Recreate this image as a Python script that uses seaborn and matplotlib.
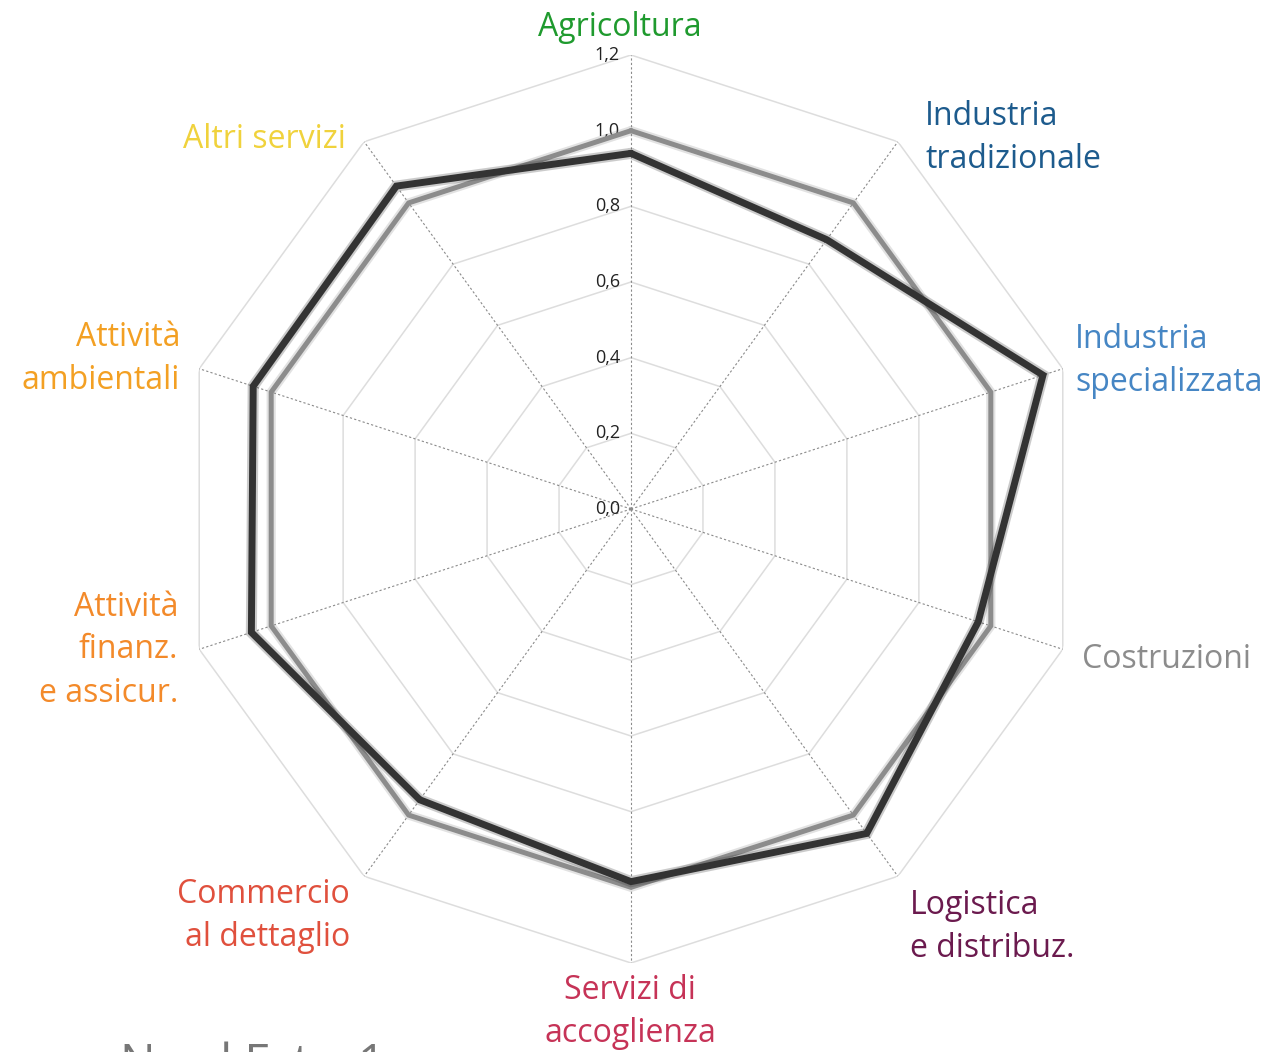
import numpy as np
import pandas as pd
import seaborn as sns
import matplotlib.pyplot as plt
import matplotlib.patheffects as pe

# categories, clockwise from the top
categorie = ['Agricoltura', 'Industria tradizionale', 'Industria specializzata', 'Costruzioni',
             'Logistica e distribuz.', 'Servizi di accoglienza', 'Commercio al dettaglio',
             'Attività finanz. e assicur.', 'Attività ambientali', 'Altri servizi']
riferimento = [1.0, 1.0, 1.0, 1.0, 1.0, 1.0, 1.0, 1.0, 1.0, 1.0]
nord_est = [0.94, 0.88, 1.145, 0.965, 1.06, 0.985, 0.95, 1.055, 1.05, 1.055]
anelli = [0.2, 0.4, 0.6, 0.8, 1.0, 1.2]
tick_labels = ['0,0', '0,2', '0,4', '0,6', '0,8', '1,0', '1,2']

# label text, colour and pixel anchor (x, y, ha)
etichette = ['Agricoltura', 'Industria\ntradizionale', 'Industria\nspecializzata', 'Costruzioni',
             'Logistica\ne distribuz.', 'Servizi di\naccoglienza', 'Commercio\nal dettaglio',
             'Attività\nfinanz.\ne assicur.', 'Attività\nambientali', 'Altri servizi']
colori = ['#1f9a2e', '#1d5b8d', '#4686c4', '#8c8c8c', '#6b1a4e',
          '#c63357', '#e0503d', '#f38a2a', '#f3a023', '#f0d23c']
pos = [(620, 28, 'center'), (925, 138, 'left'), (1075, 361, 'left'), (1082, 659, 'left'),
       (910, 927, 'left'), (630, 1012, 'center'), (350, 916, 'right'),
       (178, 650, 'right'), (180, 359, 'right'), (346, 140, 'right')]

W, H = 1273, 1052
sns.set_theme(style='white')
plt.rcParams['font.family'] = ['Open Sans', 'DejaVu Sans']

fig = plt.figure(figsize=(W / 100, H / 100), dpi=100)
cx, cy, R = 631, 509, 454
ax = fig.add_axes([(cx - R) / W, (H - cy - R) / H, 2 * R / W, 2 * R / H], projection='polar')
ax.set_theta_zero_location('N')
ax.set_theta_direction(-1)
ax.set_ylim(0, 1.2)
ax.grid(False)
ax.spines['polar'].set_visible(False)
ax.set_xticks([])
ax.set_yticks([])
ax.patch.set_alpha(0)

n = len(categorie)
theta = np.linspace(0, 2 * np.pi, n, endpoint=False)
theta_c = np.append(theta, 2 * np.pi)

# polygon grid
for r in anelli:
    ax.plot(theta_c, [r] * (n + 1), color='#dddddd', lw=1.1, zorder=1)
for t in theta:
    ax.plot([t, t], [0, 1.2], color='#8a8a8a', lw=0.8, ls=(0, (2, 2)), zorder=1)

for i, lab in enumerate(tick_labels):
    ax.annotate(lab, xy=(0, i * 0.2), xytext=(-8, 0), textcoords='offset points',
                ha='right', va='center', fontsize=13, color='#222222')

df = pd.DataFrame({
    'theta': np.concatenate([theta_c, theta_c]),
    'valore': riferimento + riferimento[:1] + nord_est + nord_est[:1],
    'serie': ['Italia'] * (n + 1) + ['Nord Est'] * (n + 1),
})
sns.lineplot(data=df, x='theta', y='valore', hue='serie', sort=False, estimator=None,
             palette={'Italia': '#8c8c8c', 'Nord Est': '#333333'}, ax=ax, legend=False, zorder=3)
for line, lw in zip(ax.lines[-2:], [3.6, 5.0]):
    c = line.get_color()
    line.set_linewidth(lw)
    line.set_solid_joinstyle('miter')
    line.set_path_effects([pe.Stroke(linewidth=lw + 3, foreground=c, alpha=0.25), pe.Normal()])
ax.set_xlabel('')
ax.set_ylabel('')

for lab, c, (x, y, ha) in zip(etichette, colori, pos):
    fig.text(x / W, 1 - y / H, lab, ha=ha, va='center', color=c, fontsize=23,
             linespacing=1.4, multialignment=ha)

fig.text(120 / W, -26 / H, 'Nord Est – 1', ha='left', va='baseline', color='#777777', fontsize=34)

fig.savefig('out.png', dpi=100)
